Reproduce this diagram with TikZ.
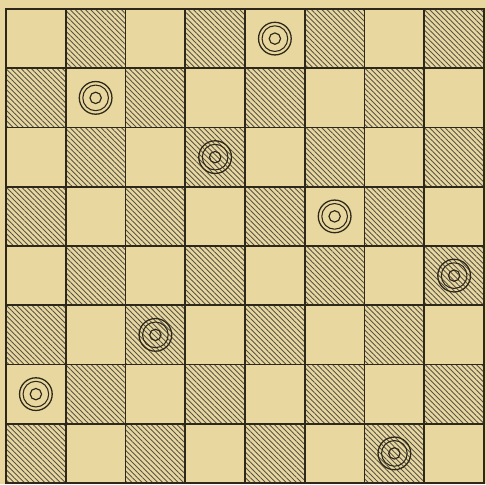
\documentclass[tikz,border=0pt]{standalone}
\usetikzlibrary{patterns.meta}
\definecolor{boardtan}{HTML}{E8D8A0}
\definecolor{inkbrown}{HTML}{2E281A}

\begin{document}
\begin{tikzpicture}[
      x=0.03cm, y=-0.03cm,
      hatch/.style={pattern={Lines[angle=-45, distance=3.1pt, line width=0.75pt]},
                    pattern color=inkbrown!80},
      rule/.style={draw=inkbrown, line width=1.5pt, line cap=rect},
      queen/.style={circle, draw=inkbrown, line width=1.1pt, inner sep=0pt,
                    minimum size=0.98cm,
                    path picture={
                      \draw[inkbrown, line width=0.9pt] (path picture bounding box.center) circle (0.385cm);
                      \draw[inkbrown, line width=1pt] (path picture bounding box.center) circle (0.17cm);
                    }},
    ]
    \useasboundingbox (0,0) rectangle (486,484);
    \fill[boardtan] (0,0) rectangle (486,484);

    % dark squares
    \foreach \r in {0,...,7}
      \foreach \c in {0,...,7} {
        \pgfmathtruncatemacro{\odd}{mod(\r+\c,2)}
        \ifnum\odd=1
          \fill[hatch] ({6+\c*59.75}, {9+\r*59.25}) rectangle ++(59.75, 59.25);
        \fi
      }

    % grid
    \foreach \i in {0,...,8} {
      \draw[rule] ({6+\i*59.75}, 9) -- ({6+\i*59.75}, 483);
      \draw[rule] (6, {9+\i*59.25}) -- (484, {9+\i*59.25});
    }

    % queens
    \foreach \r/\c in {0/4, 1/1, 2/3, 3/5, 4/7, 5/2, 6/0, 7/6}
      \node[queen] (q\r) at ({6+(\c+0.5)*59.75}, {9+(\r+0.5)*59.25}) {};
  \end{tikzpicture}
\end{document}
